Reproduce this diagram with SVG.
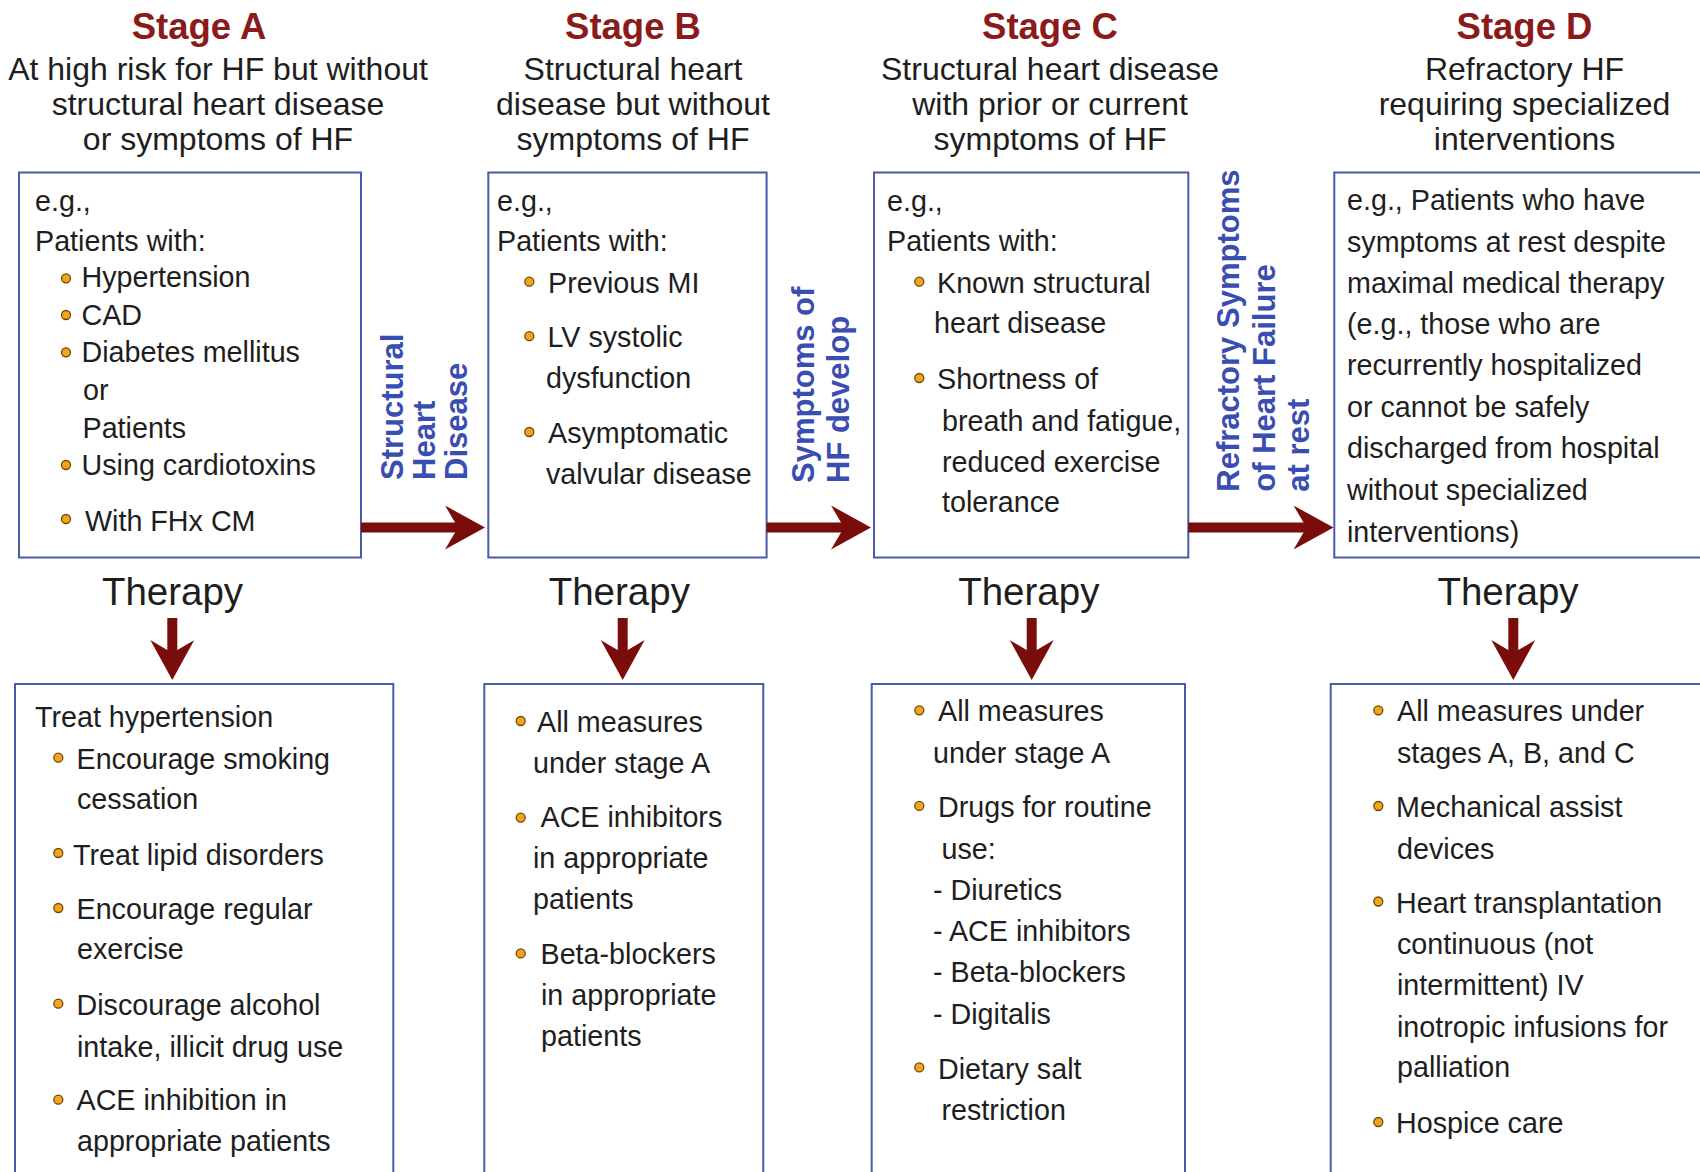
<svg xmlns="http://www.w3.org/2000/svg" width="1700" height="1172" viewBox="0 0 1700 1172">
<style>
text{font-family:"Liberation Sans",Arial,Helvetica,sans-serif;fill:#1e1e1e}
.title{font-size:36.5px;font-weight:bold;fill:#8b1a1a;text-anchor:middle}
.sub{font-size:32px;text-anchor:middle}
.t{font-size:28.7px}
.ther{font-size:38.5px;text-anchor:middle}
.vlab{font-size:31px;font-weight:bold;fill:#3a4db0}
.box{fill:#fff;stroke:#4b5aa6;stroke-width:2}
.bul{fill:#f2a51c;stroke:#6e4b00;stroke-width:1.3}
.arr{stroke:#7a0c0c;stroke-width:10;fill:none;marker-end:url(#head)}
</style>
<defs>
<marker id="head" markerUnits="userSpaceOnUse" markerWidth="40" markerHeight="44" viewBox="0 0 40 44" refX="16" refY="22" orient="auto">
<path d="M0,0 L40,22 L0,44 L13,22 Z" fill="#7a0c0c"/>
</marker>
</defs>
<rect width="1700" height="1172" fill="#fff"/>

<g id="stageA-header">
<text class="title" x="199" y="39">Stage A</text>
<text class="sub" x="218" y="80">At high risk for HF but without</text>
<text class="sub" x="218" y="115">structural heart disease</text>
<text class="sub" x="218" y="150">or symptoms of HF</text>
</g>
<g id="stageB-header">
<text class="title" x="633" y="39">Stage B</text>
<text class="sub" x="633" y="80">Structural heart</text>
<text class="sub" x="633" y="115">disease but without</text>
<text class="sub" x="633" y="150">symptoms of HF</text>
</g>
<g id="stageC-header">
<text class="title" x="1050" y="39">Stage C</text>
<text class="sub" x="1050" y="80">Structural heart disease</text>
<text class="sub" x="1050" y="115">with prior or current</text>
<text class="sub" x="1050" y="150">symptoms of HF</text>
</g>
<g id="stageD-header">
<text class="title" x="1524.5" y="39">Stage D</text>
<text class="sub" x="1524.5" y="80">Refractory HF</text>
<text class="sub" x="1524.5" y="115">requiring specialized</text>
<text class="sub" x="1524.5" y="150">interventions</text>
</g>

<g id="stageA-box">
<rect class="box" x="19" y="172.5" width="342" height="385"/>
<text class="t" x="35" y="210.7">e.g.,</text>
<text class="t" x="35" y="250.7">Patients with:</text>
<circle class="bul" cx="66" cy="278.3" r="4.5"/><text class="t" x="81.5" y="287.3">Hypertension</text>
<circle class="bul" cx="66" cy="315" r="4.5"/><text class="t" x="81.5" y="325">CAD</text>
<circle class="bul" cx="66" cy="352.3" r="4.5"/><text class="t" x="81.5" y="362.3">Diabetes mellitus</text>
<text class="t" x="83" y="400">or</text>
<text class="t" x="82.5" y="438.3">Patients</text>
<circle class="bul" cx="66" cy="465" r="4.5"/><text class="t" x="81.5" y="475">Using cardiotoxins</text>
<circle class="bul" cx="66" cy="519" r="4.5"/><text class="t" x="85" y="530.7">With FHx CM</text>
</g>

<g id="stageB-box">
<rect class="box" x="488.3" y="172.5" width="278.3" height="385"/>
<text class="t" x="497" y="210.8">e.g.,</text>
<text class="t" x="497" y="250.8">Patients with:</text>
<circle class="bul" cx="529.3" cy="281.7" r="4.5"/><text class="t" x="548" y="292.6">Previous MI</text>
<circle class="bul" cx="529.3" cy="336.2" r="4.5"/><text class="t" x="547.5" y="347">LV systolic</text>
<text class="t" x="546" y="388.2">dysfunction</text>
<circle class="bul" cx="529.3" cy="432" r="4.5"/><text class="t" x="548" y="443.4">Asymptomatic</text>
<text class="t" x="546" y="483.5">valvular disease</text>
</g>

<g id="stageC-box">
<rect class="box" x="874" y="172.5" width="314.3" height="385"/>
<text class="t" x="887" y="210.8">e.g.,</text>
<text class="t" x="887" y="250.8">Patients with:</text>
<circle class="bul" cx="919.3" cy="281.7" r="4.5"/><text class="t" x="937" y="292.6">Known structural</text>
<text class="t" x="934" y="332.6">heart disease</text>
<circle class="bul" cx="919.3" cy="378" r="4.5"/><text class="t" x="937" y="389">Shortness of</text>
<text class="t" x="942" y="430.7">breath and fatigue,</text>
<text class="t" x="942" y="471.5">reduced exercise</text>
<text class="t" x="942" y="511.8">tolerance</text>
</g>

<g id="stageD-box">
<rect class="box" x="1334.3" y="172.5" width="380" height="385"/>
<text class="t" x="1347" y="210">e.g., Patients who have</text>
<text class="t" x="1347" y="251.7">symptoms at rest despite</text>
<text class="t" x="1347" y="292.7">maximal medical therapy</text>
<text class="t" x="1347" y="334">(e.g., those who are</text>
<text class="t" x="1347" y="375">recurrently hospitalized</text>
<text class="t" x="1347" y="417.3">or cannot be safely</text>
<text class="t" x="1347" y="458.3">discharged from hospital</text>
<text class="t" x="1347" y="500">without specialized</text>
<text class="t" x="1347" y="541.7">interventions)</text>
</g>

<g id="therapyA-label"><text class="ther" x="172.5" y="605">Therapy</text></g>
<g id="therapyB-label"><text class="ther" x="619.3" y="605">Therapy</text></g>
<g id="therapyC-label"><text class="ther" x="1028.8" y="605">Therapy</text></g>
<g id="therapyD-label"><text class="ther" x="1508" y="605">Therapy</text></g>

<g id="therapyA-box">
<rect class="box" x="15" y="684" width="378.3" height="500"/>
<text class="t" x="35" y="727">Treat hypertension</text>
<circle class="bul" cx="58.3" cy="757.7" r="4.5"/><text class="t" x="76.5" y="769.3">Encourage smoking</text>
<text class="t" x="77" y="809.3">cessation</text>
<circle class="bul" cx="58.3" cy="853" r="4.5"/><text class="t" x="73" y="864.7">Treat lipid disorders</text>
<circle class="bul" cx="58.3" cy="908" r="4.5"/><text class="t" x="76.5" y="918.7">Encourage regular</text>
<text class="t" x="77" y="959.3">exercise</text>
<circle class="bul" cx="58.3" cy="1003.7" r="4.5"/><text class="t" x="76.5" y="1014.7">Discourage alcohol</text>
<text class="t" x="77" y="1057">intake, illicit drug use</text>
<circle class="bul" cx="58.3" cy="1099.7" r="4.5"/><text class="t" x="76.5" y="1110.3">ACE inhibition in</text>
<text class="t" x="77" y="1151.3">appropriate patients</text>
</g>

<g id="therapyB-box">
<rect class="box" x="484.3" y="684" width="279" height="500"/>
<circle class="bul" cx="520.7" cy="721" r="4.5"/><text class="t" x="537" y="731.7">All measures</text>
<text class="t" x="533" y="772.7">under stage A</text>
<circle class="bul" cx="520.7" cy="817.6" r="4.5"/><text class="t" x="540.5" y="827.4">ACE inhibitors</text>
<text class="t" x="533" y="868.3">in appropriate</text>
<text class="t" x="533" y="908.5">patients</text>
<circle class="bul" cx="520.7" cy="953.4" r="4.5"/><text class="t" x="540.5" y="964">Beta-blockers</text>
<text class="t" x="541" y="1005">in appropriate</text>
<text class="t" x="541" y="1046">patients</text>
</g>

<g id="therapyC-box">
<rect class="box" x="871.7" y="684" width="313.3" height="500"/>
<circle class="bul" cx="919.3" cy="710.3" r="4.5"/><text class="t" x="938" y="720.8">All measures</text>
<text class="t" x="933" y="763">under stage A</text>
<circle class="bul" cx="919.3" cy="805.9" r="4.5"/><text class="t" x="938" y="816.8">Drugs for routine</text>
<text class="t" x="941.5" y="858.6">use:</text>
<text class="t" x="933" y="899.6">- Diuretics</text>
<text class="t" x="933" y="940.5">- ACE inhibitors</text>
<text class="t" x="933" y="982.3">- Beta-blockers</text>
<text class="t" x="933" y="1023.7">- Digitalis</text>
<circle class="bul" cx="919.3" cy="1067.4" r="4.5"/><text class="t" x="938" y="1079.1">Dietary salt</text>
<text class="t" x="941.5" y="1120">restriction</text>
</g>

<g id="therapyD-box">
<rect class="box" x="1330.7" y="684" width="380" height="500"/>
<circle class="bul" cx="1378.3" cy="710.3" r="4.5"/><text class="t" x="1397" y="720.8">All measures under</text>
<text class="t" x="1397" y="763">stages A, B, and C</text>
<circle class="bul" cx="1378.3" cy="806" r="4.5"/><text class="t" x="1396" y="816.8">Mechanical assist</text>
<text class="t" x="1397" y="858.6">devices</text>
<circle class="bul" cx="1378.3" cy="901.5" r="4.5"/><text class="t" x="1396" y="913.2">Heart transplantation</text>
<text class="t" x="1397" y="954.2">continuous (not</text>
<text class="t" x="1397" y="995.2">intermittent) IV</text>
<text class="t" x="1397" y="1037">inotropic infusions for</text>
<text class="t" x="1397" y="1077.2">palliation</text>
<circle class="bul" cx="1378.3" cy="1122" r="4.5"/><text class="t" x="1396" y="1133">Hospice care</text>
</g>

<g id="connectors">
<line class="arr" x1="361" y1="527.5" x2="461" y2="527.5"/>
<line class="arr" x1="766.6" y1="527.5" x2="847" y2="527.5"/>
<line class="arr" x1="1188.3" y1="527.5" x2="1309.5" y2="527.5"/>
<line class="arr" x1="172.3" y1="618" x2="172.3" y2="656"/>
<line class="arr" x1="622.7" y1="618" x2="622.7" y2="656"/>
<line class="arr" x1="1031.7" y1="618" x2="1031.7" y2="656"/>
<line class="arr" x1="1513.3" y1="618" x2="1513.3" y2="656"/>
<g id="label-AB">
<text class="vlab" transform="translate(403,480) rotate(-90)">Structural</text>
<text class="vlab" transform="translate(435,480) rotate(-90)">Heart</text>
<text class="vlab" transform="translate(467,480) rotate(-90)">Disease</text>
</g>
<g id="label-BC">
<text class="vlab" transform="translate(814,483) rotate(-90)">Symptoms of</text>
<text class="vlab" transform="translate(849,483) rotate(-90)">HF develop</text>
</g>
<g id="label-CD">
<text class="vlab" transform="translate(1239,491.7) rotate(-90)">Refractory Symptoms</text>
<text class="vlab" transform="translate(1275,491.7) rotate(-90)">of Heart Failure</text>
<text class="vlab" transform="translate(1309,491.7) rotate(-90)">at rest</text>
</g>
</g>
</svg>
